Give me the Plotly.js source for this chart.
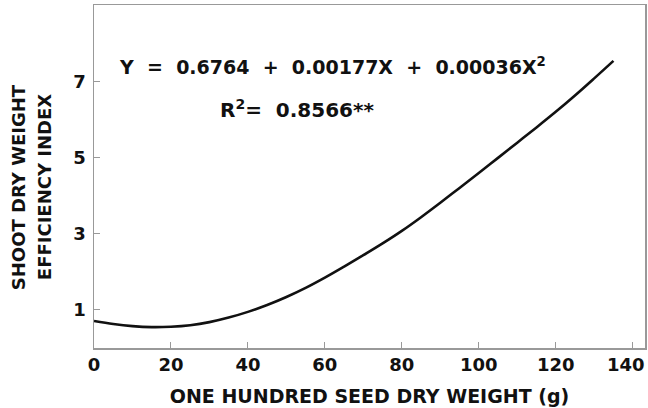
<!DOCTYPE html>
<html>
<head>
<meta charset="utf-8">
<script src="https://cdn.plot.ly/plotly-3.0.1.min.js"></script>
<style>
html, body { margin: 0; padding: 0; background: #fff; }
#chart { width: 648px; height: 408px; }
</style>
</head>
<body>
<div id="chart"></div>
<script>
// Seed dry weight (g) and read-off efficiency index values
var seedWeight = [0, 5, 10, 15, 20, 25, 30, 35, 40, 45, 50, 55, 60, 65, 70, 75, 80, 85, 90, 95, 100, 105, 110, 115, 120, 125, 130, 135];
var efficiencyIndex = [0.71, 0.63, 0.575, 0.55, 0.56, 0.60, 0.68, 0.80, 0.95, 1.13, 1.34, 1.58, 1.85, 2.14, 2.44, 2.75, 3.08, 3.44, 3.82, 4.21, 4.60, 5.00, 5.40, 5.80, 6.21, 6.64, 7.09, 7.55];
var xTicks = [0, 20, 40, 60, 80, 100, 120, 140];
var xTickLabels = ["0", "20", "40", "60", "80", "100", "120", "140"];
var yTicks = [1, 3, 5, 7];
var xTitle = "ONE HUNDRED SEED DRY WEIGHT (g)";
var yTitleLines = ["SHOOT DRY WEIGHT", "EFFICIENCY INDEX"];
var equationText = "Y\u00a0\u00a0=\u00a0\u00a00.6764\u00a0\u00a0+\u00a0\u00a00.00177X\u00a0\u00a0+\u00a0\u00a00.00036X<sup>2</sup>";
var r2Text = "R<sup>2</sup>=\u00a0\u00a00.8566**";

var FONT = "DejaVu Sans, Arial, sans-serif";
var lastIdx = xTicks.length - 1;
// the last tick label sits against the right edge of the figure, so it is drawn right-aligned
var axisTickText = xTickLabels.map(function (t, i) { return i === lastIdx ? "" : t; });

var trace = {
  x: seedWeight,
  y: efficiencyIndex,
  type: "scatter",
  mode: "lines",
  line: { color: "#111", width: 2.6, shape: "spline", smoothing: 1 },
  hoverinfo: "skip"
};

var layout = {
  width: 648,
  height: 408,
  paper_bgcolor: "#ffffff",
  plot_bgcolor: "#ffffff",
  showlegend: false,
  margin: { l: 94, r: 3, t: 5, b: 60, pad: 0 },
  font: { family: FONT, color: "#111", size: 18, weight: "bold" },
  xaxis: {
    range: [0, 143.2],
    tickvals: xTicks,
    ticktext: axisTickText,
    ticks: "inside",
    ticklen: 6,
    tickwidth: 1,
    tickcolor: "#999",
    showline: true,
    linecolor: "#999",
    linewidth: 1.5,
    mirror: true,
    showgrid: false,
    zeroline: false,
    tickfont: { family: FONT, size: 18, color: "#111", weight: "bold" },
    title: { text: xTitle, font: { family: FONT, size: 19, color: "#111", weight: "bold" }, standoff: 15 }
  },
  yaxis: {
    range: [0, 9.02],
    tickvals: yTicks,
    ticktext: yTicks.map(String),
    ticks: "inside",
    ticklen: 6,
    tickwidth: 1,
    tickcolor: "#999",
    showline: true,
    linecolor: "#999",
    linewidth: 1.5,
    mirror: true,
    showgrid: false,
    zeroline: false,
    ticklabelstandoff: 3,
    tickfont: { family: FONT, size: 18, color: "#111", weight: "bold" },
    title: { text: "" }
  },
  annotations: [
    { xref: "x", yref: "paper", x: xTicks[lastIdx], y: 0, yshift: -16.5, xshift: 14, text: xTickLabels[lastIdx], showarrow: false, xanchor: "right", yanchor: "middle", font: { family: FONT, size: 18, color: "#111", weight: "bold" } },
    { xref: "paper", yref: "paper", x: (18 - 94) / 551, y: (347.7 - 187) / 342.7, text: yTitleLines[0], textangle: -90, showarrow: false, xanchor: "center", yanchor: "middle", font: { family: FONT, size: 18, color: "#111", weight: "bold" } },
    { xref: "paper", yref: "paper", x: (44 - 94) / 551, y: (347.7 - 187) / 342.7, text: yTitleLines[1], textangle: -90, showarrow: false, xanchor: "center", yanchor: "middle", font: { family: FONT, size: 18, color: "#111", weight: "bold" } },
    { xref: "paper", yref: "paper", x: (332 - 94) / 551, y: (347.7 - 66) / 342.7, text: equationText, showarrow: false, xanchor: "center", yanchor: "middle", font: { family: FONT, size: 19, color: "#111", weight: "bold" } },
    { xref: "paper", yref: "paper", x: (297 - 94) / 551, y: (347.7 - 109) / 342.7, text: r2Text, showarrow: false, xanchor: "center", yanchor: "middle", font: { family: FONT, size: 20, color: "#111", weight: "bold" } }
  ]
};

Plotly.newPlot("chart", [trace], layout, { staticPlot: true, displayModeBar: false });
</script>
</body>
</html>
